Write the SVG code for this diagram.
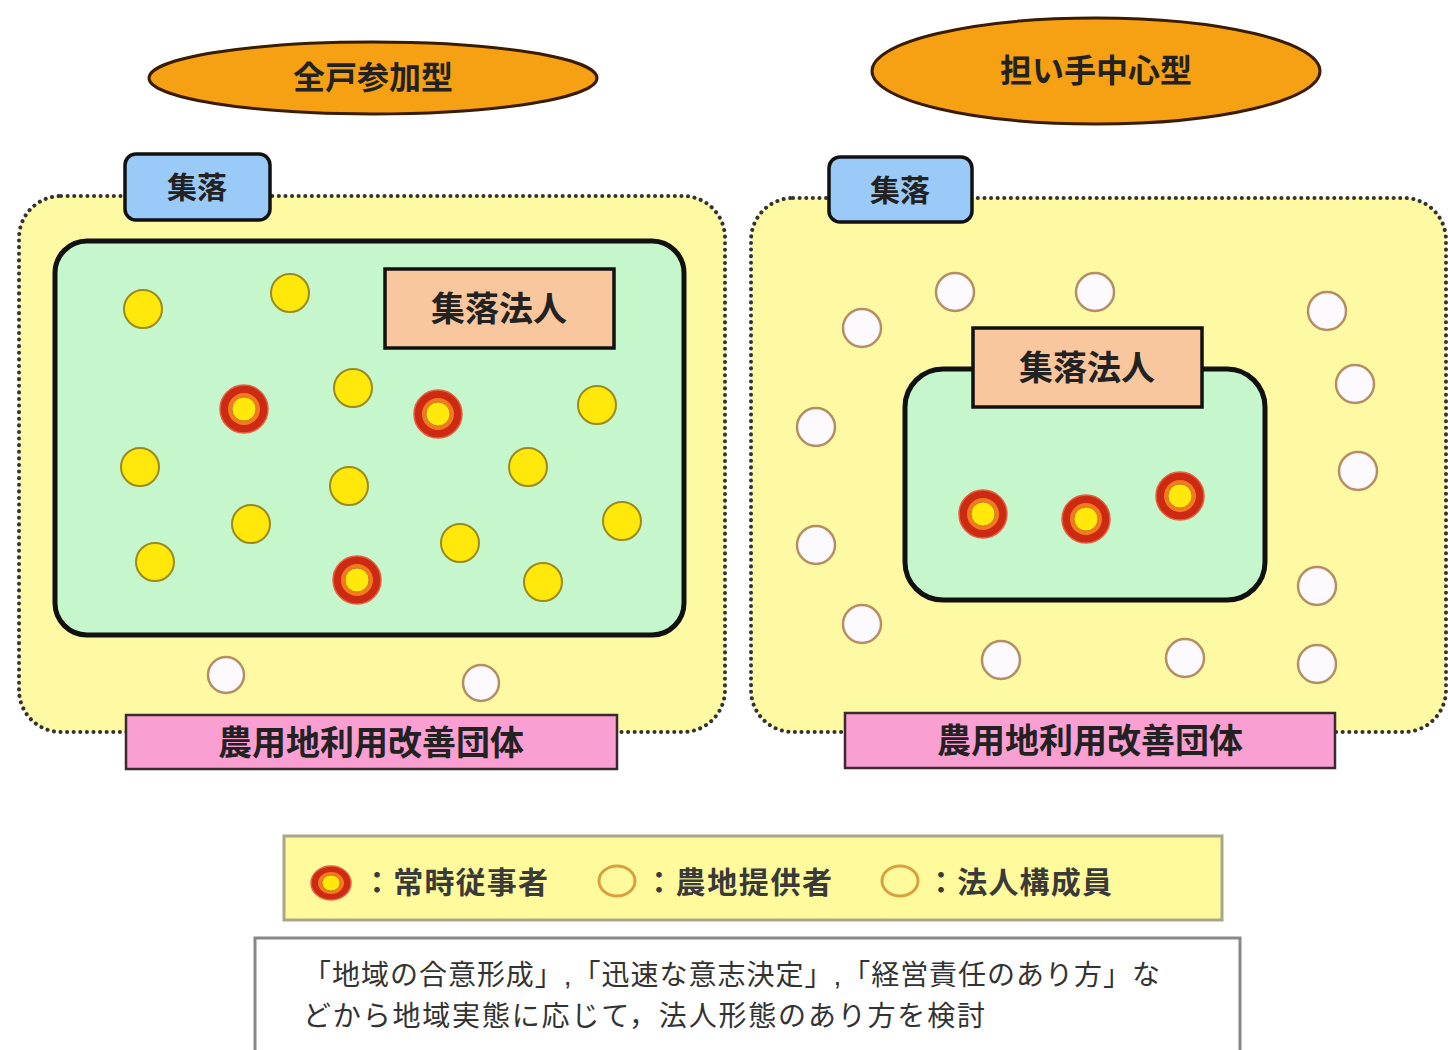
<svg xmlns="http://www.w3.org/2000/svg" width="1448" height="1050" viewBox="0 0 1448 1050">
<defs>
<style>
.t{font-family:"Liberation Sans","Noto Sans CJK JP",sans-serif;}
.b{font-weight:bold;fill:#222;}
.title{fill:#F6A114;stroke:#3a1c00;stroke-width:3;}
.outer{fill:#FEF9A3;stroke:#333;stroke-width:4;stroke-dasharray:0.1 6.5;stroke-linecap:round;}
.green{fill:#C6F6CC;stroke:#111;stroke-width:5;}
.blue{fill:#9ACBF8;stroke:#111;stroke-width:3.5;}
.peach{fill:#F9C79E;stroke:#111;stroke-width:3.5;}
.pink{fill:#F99FD2;stroke:#3a2a30;stroke-width:2.5;}
.y{fill:#FFE80A;stroke:#9a8a20;stroke-width:2;}
.w{fill:#FCF9FF;stroke:#B48F63;stroke-width:2.5;}
.ro{fill:#CC2A12;stroke:#E86040;stroke-width:1.5;}
.rm{fill:#F57A1E;}
.ri{fill:#FFE80A;stroke:#C08020;stroke-width:1;}
.lg{font-size:30px;fill:#3a3a3a;font-weight:bold;}
</style>
</defs>
<rect width="1448" height="1050" fill="#FFFFFF"/>

<g id="title-left">
<ellipse class="title" cx="373" cy="78" rx="224" ry="36"/>
<text class="t b" x="373" y="89" font-size="32" text-anchor="middle">全戸参加型</text>
</g>
<g id="title-right">
<ellipse class="title" cx="1096" cy="71" rx="224" ry="53"/>
<text class="t b" x="1096" y="82" font-size="32" text-anchor="middle">担い手中心型</text>
</g>

<g id="village-left">
<rect class="outer" x="19" y="196" width="706" height="536" rx="42"/>
</g>
<g id="village-right">
<rect class="outer" x="751" y="198" width="695" height="534" rx="42"/>
</g>

<g id="corp-area-left">
<rect class="green" x="55" y="241" width="629" height="394" rx="32"/>
</g>
<g id="corp-area-right">
<rect class="green" x="905" y="369" width="360" height="231" rx="38"/>
</g>

<g id="label-village-left">
<rect class="blue" x="125" y="154" width="145" height="66" rx="11"/>
<text class="t b" x="197" y="198" font-size="30" text-anchor="middle">集落</text>
</g>
<g id="label-village-right">
<rect class="blue" x="829" y="157" width="143" height="65" rx="11"/>
<text class="t b" x="900" y="201" font-size="30" text-anchor="middle">集落</text>
</g>

<g id="corp-left">
<rect class="peach" x="385" y="269" width="229" height="79"/>
<text class="t b" x="499" y="321" font-size="34" text-anchor="middle">集落法人</text>
</g>
<g id="corp-right">
<rect class="peach" x="973" y="328" width="229" height="79"/>
<text class="t b" x="1087" y="380" font-size="34" text-anchor="middle">集落法人</text>
</g>

<g id="group-left">
<rect class="pink" x="126" y="715" width="491" height="54"/>
<text class="t b" x="371" y="755" font-size="34" text-anchor="middle">農用地利用改善団体</text>
</g>
<g id="group-right">
<rect class="pink" x="845" y="713" width="490" height="55"/>
<text class="t b" x="1090" y="753" font-size="34" text-anchor="middle">農用地利用改善団体</text>
</g>

<g id="members-left">
<circle class="y" cx="143" cy="309" r="19"/>
<circle class="y" cx="290" cy="293" r="19"/>
<circle class="y" cx="353" cy="388" r="19"/>
<circle class="y" cx="597" cy="405" r="19"/>
<circle class="y" cx="140" cy="467" r="19"/>
<circle class="y" cx="349" cy="486" r="19"/>
<circle class="y" cx="528" cy="467" r="19"/>
<circle class="y" cx="251" cy="524" r="19"/>
<circle class="y" cx="622" cy="521" r="19"/>
<circle class="y" cx="155" cy="562" r="19"/>
<circle class="y" cx="460" cy="543" r="19"/>
<circle class="y" cx="543" cy="582" r="19"/>
</g>

<g id="workers-left">
<circle class="ro" cx="244" cy="409" r="24"/><circle class="rm" cx="244" cy="409" r="16"/><circle class="ri" cx="244" cy="409" r="12"/>
<circle class="ro" cx="438" cy="414" r="24"/><circle class="rm" cx="438" cy="414" r="16"/><circle class="ri" cx="438" cy="414" r="12"/>
<circle class="ro" cx="357" cy="580" r="24"/><circle class="rm" cx="357" cy="580" r="16"/><circle class="ri" cx="357" cy="580" r="12"/>
</g>

<g id="providers-left">
<circle class="w" cx="226" cy="675" r="18"/>
<circle class="w" cx="481" cy="683" r="18"/>
</g>

<g id="providers-right">
<circle class="w" cx="955" cy="292" r="19"/>
<circle class="w" cx="1095" cy="292" r="19"/>
<circle class="w" cx="862" cy="328" r="19"/>
<circle class="w" cx="1327" cy="311" r="19"/>
<circle class="w" cx="1355" cy="384" r="19"/>
<circle class="w" cx="816" cy="427" r="19"/>
<circle class="w" cx="1358" cy="471" r="19"/>
<circle class="w" cx="816" cy="545" r="19"/>
<circle class="w" cx="1317" cy="586" r="19"/>
<circle class="w" cx="862" cy="624" r="19"/>
<circle class="w" cx="1001" cy="660" r="19"/>
<circle class="w" cx="1185" cy="658" r="19"/>
<circle class="w" cx="1317" cy="664" r="19"/>
</g>

<g id="workers-right">
<circle class="ro" cx="983" cy="514" r="24"/><circle class="rm" cx="983" cy="514" r="16"/><circle class="ri" cx="983" cy="514" r="12"/>
<circle class="ro" cx="1086" cy="519" r="24"/><circle class="rm" cx="1086" cy="519" r="16"/><circle class="ri" cx="1086" cy="519" r="12"/>
<circle class="ro" cx="1180" cy="496" r="24"/><circle class="rm" cx="1180" cy="496" r="16"/><circle class="ri" cx="1180" cy="496" r="12"/>
</g>

<g id="legend">
<rect x="284" y="836" width="938" height="84" fill="#FFFB9C" stroke="#A8A888" stroke-width="3"/>
<ellipse class="ro" cx="331" cy="883" rx="20" ry="17"/><ellipse class="rm" cx="331" cy="883" rx="13" ry="11"/><ellipse class="ri" cx="331" cy="883" rx="9" ry="8"/>
<text class="t lg" x="362" y="893" textLength="186" lengthAdjust="spacing">：常時従事者</text>
<ellipse cx="617" cy="881" rx="18" ry="15" fill="#FFFB9C" stroke="#D8A040" stroke-width="3"/>
<text class="t lg" x="644" y="893" textLength="188" lengthAdjust="spacing">：農地提供者</text>
<ellipse cx="900" cy="881" rx="18" ry="15" fill="#FFFB9C" stroke="#D8A040" stroke-width="3"/>
<text class="t lg" x="926" y="893" textLength="186" lengthAdjust="spacing">：法人構成員</text>
</g>

<g id="note">
<rect x="255" y="938" width="985" height="120" fill="#FFFFFF" stroke="#888" stroke-width="3"/>
<text class="t" x="303" y="985" font-size="28" fill="#333" textLength="857" lengthAdjust="spacing">「地域の合意形成」,「迅速な意志決定」,「経営責任のあり方」な</text>
<text class="t" x="303" y="1026" font-size="28" fill="#333" textLength="682" lengthAdjust="spacing">どから地域実態に応じて，法人形態のあり方を検討</text>
</g>
</svg>
